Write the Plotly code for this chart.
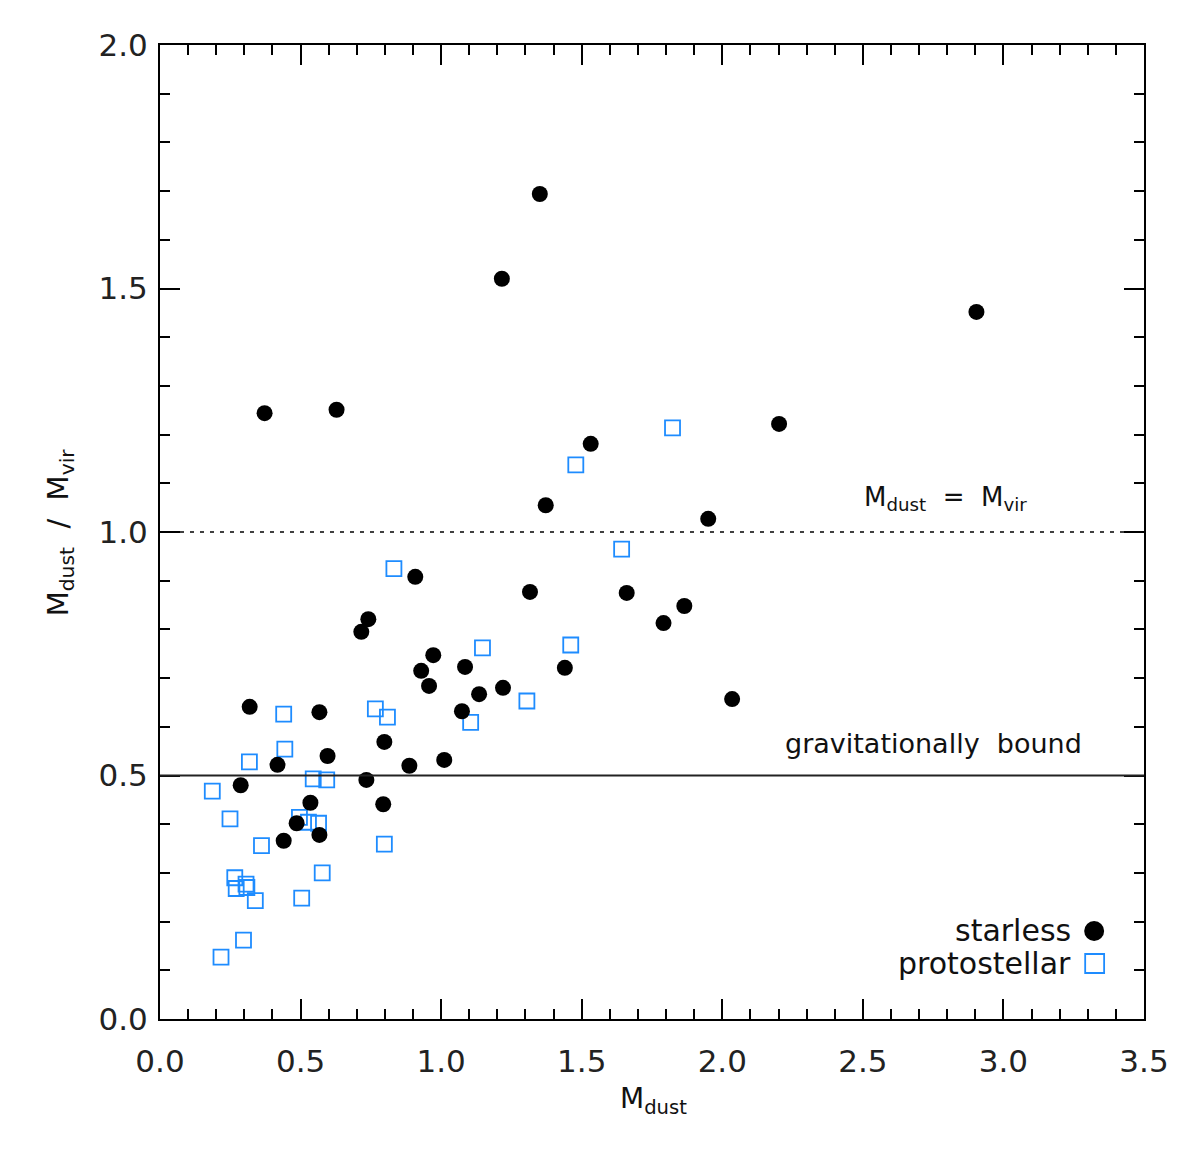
import plotly.graph_objects as go

# Starless cores (filled circles)
starless_mdust = [1.351, 1.216, 2.904, 0.372, 0.628, 2.202, 1.532, 1.372, 1.950, 0.908,
                  1.316, 1.660, 1.865, 1.791, 0.741, 0.716, 0.972, 0.929, 1.085, 0.957,
                  1.440, 1.135, 1.220, 1.074, 2.035, 0.319, 0.567, 0.596, 0.798, 0.418,
                  0.887, 1.011, 0.287, 0.734, 0.794, 0.535, 0.486, 0.567, 0.440]
starless_ratio = [1.694, 1.520, 1.452, 1.244, 1.251, 1.222, 1.181, 1.055, 1.027, 0.908,
                  0.877, 0.875, 0.848, 0.813, 0.821, 0.795, 0.747, 0.715, 0.723, 0.684,
                  0.721, 0.667, 0.680, 0.632, 0.657, 0.641, 0.630, 0.540, 0.569, 0.522,
                  0.520, 0.532, 0.480, 0.491, 0.441, 0.444, 0.402, 0.378, 0.366]

# Protostellar cores (open squares)
proto_mdust = [1.823, 1.479, 1.642, 1.461, 1.305, 0.832, 1.147, 0.766, 0.809, 1.105,
               0.440, 0.444, 0.318, 0.545, 0.593, 0.186, 0.249, 0.496, 0.528, 0.564,
               0.361, 0.798, 0.577, 0.266, 0.271, 0.306, 0.309, 0.339, 0.504, 0.297,
               0.217]
proto_ratio = [1.214, 1.138, 0.965, 0.768, 0.653, 0.925, 0.762, 0.637, 0.620, 0.609,
               0.626, 0.554, 0.528, 0.493, 0.491, 0.468, 0.411, 0.414, 0.404, 0.402,
               0.356, 0.359, 0.300, 0.290, 0.268, 0.277, 0.270, 0.243, 0.248, 0.162,
               0.127]

equal_level = 1.0
bound_level = 0.5

# page body adds an 8px offset; figure laid out so plot area is 160..1147 x 45..1019
OFF = 8
W, H = 1173, 1144
L, R, T, B = 152, 34, 37, 133
PW, PH = W - L - R, H - T - B


def px(x):
    return (x - OFF - L) / PW


def py(y):
    return (H - B - (y - OFF)) / PH


FONT = "DejaVu Sans"
BLUE = "#1e8cff"
TXT = "#111"

fig = go.Figure()
fig.add_trace(go.Scatter(
    x=proto_mdust, y=proto_ratio, mode="markers", name="protostellar",
    marker=dict(symbol="square-open", size=15, color=BLUE, line=dict(width=1.8, color=BLUE)),
    showlegend=False))
fig.add_trace(go.Scatter(
    x=starless_mdust, y=starless_ratio, mode="markers", name="starless",
    marker=dict(symbol="circle", size=16, color="black", line=dict(width=0)),
    showlegend=False))

shapes = []
# reference lines
shapes.append(dict(type="line", xref="paper", yref="y", x0=0, x1=1,
                   y0=equal_level, y1=equal_level,
                   line=dict(color="black", width=1.5, dash="4px,6px")))
shapes.append(dict(type="line", xref="paper", yref="y", x0=0, x1=1,
                   y0=bound_level, y1=bound_level,
                   line=dict(color="#222", width=1.8)))
# legend symbols
shapes.append(dict(type="circle", xref="paper", yref="paper",
                   x0=px(1087), x1=px(1107), y0=py(941), y1=py(921),
                   fillcolor="black", line=dict(width=0)))
shapes.append(dict(type="rect", xref="paper", yref="paper",
                   x0=px(1088), x1=px(1107), y0=py(973), y1=py(954),
                   fillcolor="rgba(0,0,0,0)", line=dict(width=1.8, color=BLUE)))

annotations = [
    dict(text="M<sub>dust</sub>  =  M<sub>vir</sub>", xref="paper", yref="paper",
         x=px(948), y=py(498), showarrow=False, xanchor="center", yanchor="middle",
         font=dict(family=FONT, size=26, color=TXT)),
    dict(text="gravitationally  bound", xref="paper", yref="paper",
         x=px(936), y=py(743), showarrow=False, xanchor="center", yanchor="middle",
         font=dict(family=FONT, size=27, color=TXT)),
    dict(text="starless", xref="paper", yref="paper",
         x=px(1076), y=py(930), showarrow=False, xanchor="right", yanchor="middle",
         font=dict(family=FONT, size=30, color=TXT)),
    dict(text="protostellar", xref="paper", yref="paper",
         x=px(1076), y=py(963), showarrow=False, xanchor="right", yanchor="middle",
         font=dict(family=FONT, size=30, color=TXT)),
    dict(text="M<sub>dust</sub>", xref="paper", yref="paper",
         x=px(655), y=py(1100), showarrow=False, xanchor="center", yanchor="middle",
         font=dict(family=FONT, size=28, color=TXT)),
    dict(text="M<sub>dust</sub>  /  M<sub>vir</sub>", xref="paper", yref="paper",
         x=px(60), y=py(532), showarrow=False, xanchor="center", yanchor="middle",
         textangle=-90, font=dict(family=FONT, size=29, color=TXT)),
]

axis_common = dict(
    showline=True, linecolor="black", linewidth=2, mirror="allticks",
    ticks="inside", ticklen=20, tickwidth=1.5, tickcolor="black",
    showgrid=False, zeroline=False,
    tickfont=dict(family=FONT, size=31, color="#222"),
    minor=dict(dtick=0.1, ticks="inside", ticklen=10, tickwidth=1.5, tickcolor="black",
               showgrid=False),
)

fig.update_layout(
    width=W, height=H,
    margin=dict(l=L, r=R, t=T, b=B, pad=0),
    paper_bgcolor="white", plot_bgcolor="white",
    xaxis=dict(range=[0, 3.5], dtick=0.5, tick0=0, tickformat=".1f",
               ticklabelstandoff=14, **axis_common),
    yaxis=dict(range=[0, 2.0], dtick=0.5, tick0=0, tickformat=".1f",
               ticklabelstandoff=4, **axis_common),
    shapes=shapes, annotations=annotations,
)

fig.write_html("out.html")
